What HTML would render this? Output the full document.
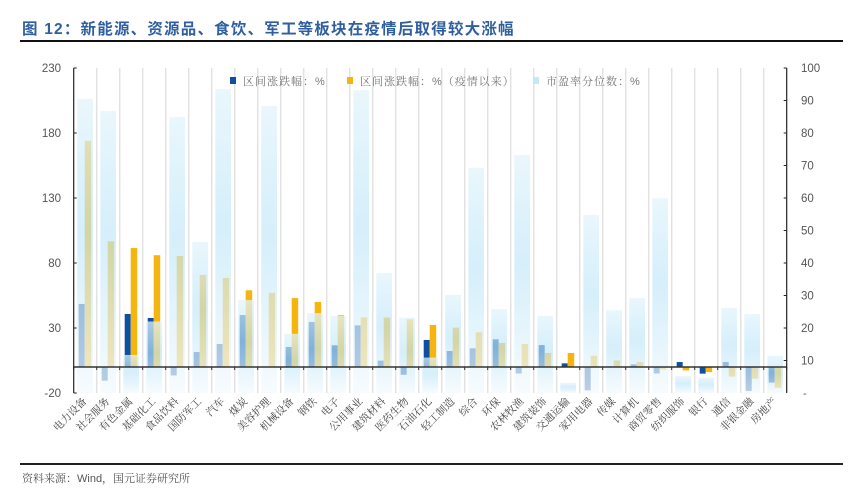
<!DOCTYPE html>
<html><head><meta charset="utf-8">
<style>
html,body{margin:0;padding:0;background:#fff;}
body{width:861px;height:501px;position:relative;overflow:hidden;font-family:"Liberation Sans","Noto Sans CJK SC",sans-serif;}
#title{position:absolute;left:22px;top:17px;font-size:15.5px;font-weight:bold;color:#2f5f9e;font-family:"Liberation Sans","Noto Sans CJK SC",sans-serif;letter-spacing:1.2px;white-space:nowrap;}
#tline{position:absolute;left:20px;top:40px;width:823px;height:2px;background:#111;}
#fline{position:absolute;left:20px;top:463px;width:823px;height:1.5px;background:#222;}
#foot{position:absolute;left:22px;top:470px;font-size:11px;color:#555;font-family:"Liberation Sans","Noto Serif CJK SC",serif;}
svg{position:absolute;left:0;top:0;}
</style></head>
<body>
<div id="title">图 12：新能源、资源品、食饮、军工等板块在疫情后取得较大涨幅</div>
<div id="tline"></div>
<svg id="chart" width="861" height="501">
<defs>
<linearGradient id="pg" x1="0" y1="0" x2="0" y2="1">
<stop offset="0" stop-color="#e3f4fc" stop-opacity="0.75"/>
<stop offset="0.45" stop-color="#bfe6f8" stop-opacity="0.65"/>
<stop offset="1" stop-color="#f4fafd" stop-opacity="0.75"/>
</linearGradient>
</defs>
</svg>
<div id="fline"></div>
<div id="foot">资料来源：Wind，国元证券研究所</div>
<script>
const categories=["电力设备","社会服务","有色金属","基础化工","食品饮料","国防军工","汽车","煤炭","美容护理","机械设备","钢铁","电子","公用事业","建筑材料","医药生物","石油石化","轻工制造","综合","环保","农林牧渔","建筑装饰","交通运输","家用电器","传媒","计算机","商贸零售","纺织服饰","银行","通信","非银金融","房地产"];
const changePeriod=[48.5,-10.5,40.8,37.7,-6.5,11.5,17.7,40,0,15.4,34.6,16.7,32,4.9,-6,20.8,12.3,14.4,21.3,-5,16.9,2.8,-18,0.5,2,-5,3.8,-5.1,3.8,-18.5,-12];
const changeSinceCovid=[174,96.7,91.5,86,85.4,70.8,68.5,59,57,53,50,39.8,38.2,38,36.7,32.3,30.3,26.7,18.5,17.7,10.8,10.8,8.7,5,3.8,-2,-2.6,-3.9,-7.4,-9,-16];
const pePercentile=[90.5,86.8,11.7,22,84.9,46.5,93.5,28.6,88.3,18.2,24.6,23.7,93.2,36.9,23.2,10.9,30.2,69.3,25.8,73.2,23.7,3.1,54.8,25.5,29.2,60,5.2,4.7,26.2,24.3,11.4];
const leftTicks=[230,180,130,80,30,-20];
const rightTicks=[100,90,80,70,60,50,40,30,20,10];

const svg=document.getElementById('chart');
const NS='http://www.w3.org/2000/svg';
const X0=73.7,X1=786.7,YT=68,YB=393;
const LMIN=-20,LMAX=230,RMIN=0,RMAX=100;
const bw=(X1-X0)/categories.length;
function yL(v){return YB-(v-LMIN)/(LMAX-LMIN)*(YB-YT);}
function yR(v){return YB-(v-RMIN)/(RMAX-RMIN)*(YB-YT);}
function xC(i){return X0+i*bw;}
function mk(tag,attrs,parent){const e=document.createElementNS(NS,tag);for(const k in attrs)e.setAttribute(k,attrs[k]);(parent||svg).appendChild(e);return e;}

for(let i=1;i<categories.length;i++){
  const g=mk('line',{x1:xC(i),x2:xC(i),y1:YT,y2:YB,stroke:'#e2e2e2','stroke-width':1.5});
  
  
}
categories.forEach((c,i)=>{
  const v=changePeriod[i],y0=yL(0);
  const a=mk('rect',{x:xC(i)+5,y:Math.min(yL(v),y0),width:6,height:Math.max(Math.abs(yL(v)-y0),0.5),fill:'#0d4fa0'});
  
  
  const w=changeSinceCovid[i];
  const b=mk('rect',{x:xC(i)+11,y:Math.min(yL(w),y0),width:6.5,height:Math.max(Math.abs(yL(w)-y0),0.5),fill:'#f6b50e'});
  
  
});
categories.forEach((c,i)=>{
  const p=pePercentile[i];
  const r=mk('rect',{x:xC(i)+3.6,y:yR(p),width:15.7,height:YB-yR(p),fill:'url(#pg)'});
  
  
});
const z=mk('line',{x1:X0,x2:X1,y1:yL(0),y2:yL(0),stroke:'#333','stroke-width':1.5});


for(let i=0;i<=categories.length;i++){
  const t=mk('line',{x1:xC(i),x2:xC(i),y1:yL(0),y2:yL(0)+3,stroke:'#333','stroke-width':1});
  
  
}
const la=mk('line',{x1:X0,x2:X0,y1:YT,y2:YB,stroke:'#222','stroke-width':1.2});


const ra=mk('line',{x1:X1,x2:X1,y1:YT,y2:YB,stroke:'#222','stroke-width':1.2});


leftTicks.forEach(v=>{
  const t=mk('line',{x1:X0,x2:X0+3,y1:yL(v),y2:yL(v),stroke:'#222'});
  
  
  const l=mk('text',{x:61,y:yL(v)+4,'text-anchor':'end','font-size':11.5,fill:'#555','font-family':'Liberation Sans,sans-serif'});
  l.textContent=v;
  
  
});
rightTicks.forEach(v=>{
  const t=mk('line',{x1:X1-3,x2:X1,y1:yR(v),y2:yR(v),stroke:'#222'});
  
  
  const l=mk('text',{x:801,y:yR(v)+4,'font-size':11.5,fill:'#555','font-family':'Liberation Sans,sans-serif'});
  l.textContent=v;
  
  
});
const rz=mk('text',{x:803,y:YB+4,'font-size':11,fill:'#555'});
rz.textContent='-';


categories.forEach((c,i)=>{
  const cx=xC(i)+bw/2+2,cy=402;
  const t=mk('text',{x:cx,y:cy,'text-anchor':'end','font-size':10.5,fill:'#444','font-family':'Liberation Serif,Noto Serif CJK SC,serif',transform:`rotate(-45 ${cx} ${cy})`});
  t.textContent=c;
  
  
});
const legend=[["区间涨跌幅：%","#0d4fa0",230],["区间涨跌幅：%（疫情以来）","#f6b50e",347],["市盈率分位数：%","#c4e8f8",533]];
legend.forEach(([txt,col,x])=>{
  const g=mk('g',{});
  
  
  mk('rect',{x:x,y:77,width:6,height:7,fill:col},g);
  const t=mk('text',{x:x+13,y:85,'font-size':11,fill:'#777','font-family':'Liberation Sans,Noto Serif CJK SC,serif','letter-spacing':'1'},g);
  t.textContent=txt;
});
</script>
</body></html>
